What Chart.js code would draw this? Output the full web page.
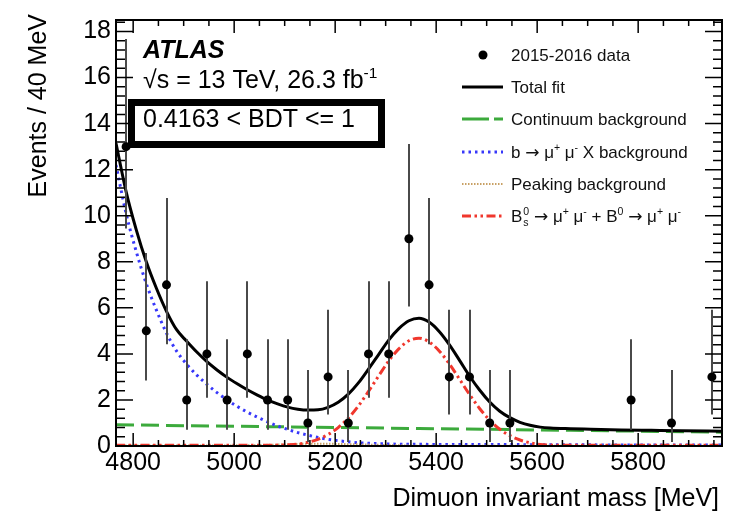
<!DOCTYPE html>
<html><head><meta charset="utf-8">
<script src="https://cdn.jsdelivr.net/npm/chart.js@4.4.1/dist/chart.umd.min.js"></script>
<style>html,body{margin:0;padding:0;background:#fff;}#wrap{width:731px;height:517px;}</style>
</head><body><div id="wrap"><canvas id="c" width="731" height="517"></canvas></div>
<script>
// ---- data ----
const binCenters = [4786,4826,4866,4906,4946,4986,5026,5066,5106,5146,5186,5226,5266,5306,5346,5386,5426,5466,5506,5546,5586,5626,5666,5706,5746,5786,5826,5866,5906,5946];
const counts     = [13,5,7,2,4,2,4,2,2,1,3,1,4,4,9,7,3,3,1,1,0,0,0,0,0,2,0,1,0,3];
const errLow     = [3.56,2.16,2.58,1.29,1.91,1.29,1.91,1.29,1.29,0.83,1.63,0.83,1.91,1.91,2.94,2.58,1.63,1.63,0.83,0.83,0,0,0,0,0,1.29,0,0.83,0,1.63];
const errHigh    = [4.67,3.38,3.77,2.64,3.16,2.64,3.16,2.64,2.64,2.30,2.92,2.30,3.16,3.16,4.11,3.77,2.92,2.92,2.30,2.30,0,0,0,0,0,2.64,0,2.30,0,2.92];

const curveMass = [4766,4786,4806,4826,4846,4866,4886,4906,4926,4946,4966,4986,5006,5026,5046,5066,5086,5106,5126,5146,5166,5186,5206,5226,5246,5266,5286,5306,5326,5346,5366,5386,5406,5426,5446,5466,5486,5506,5526,5546,5566,5586,5606,5626,5666,5706,5766,5826,5886,5966];
const totalFit  = [13.15,11.05,9.4,8.0,6.85,5.85,5.05,4.55,4.08,3.66,3.3,2.98,2.7,2.44,2.21,2.0,1.83,1.69,1.6,1.56,1.57,1.68,1.9,2.25,2.74,3.34,3.97,4.6,5.1,5.44,5.55,5.38,4.97,4.4,3.73,3.04,2.43,1.91,1.51,1.23,1.03,0.9,0.82,0.78,0.75,0.73,0.70,0.68,0.66,0.64];
const bmumuX    = [12.2,10.1,8.45,7.05,5.9,4.9,4.12,3.55,3.08,2.68,2.32,2.0,1.72,1.47,1.25,1.05,0.87,0.72,0.58,0.47,0.37,0.29,0.23,0.18,0.14,0.12,0.10,0.09,0.08,0.08,0.08,0.07,0.07,0.07,0.07,0.06,0.06,0.06,0.06,0.06,0.06,0.05,0.05,0.05,0.05,0.05,0.04,0.04,0.04,0.04];
const signal    = [0.03,0.03,0.03,0.03,0.03,0.03,0.03,0.03,0.03,0.03,0.03,0.03,0.03,0.03,0.03,0.03,0.04,0.05,0.08,0.16,0.29,0.5,0.8,1.21,1.74,2.37,3.04,3.69,4.22,4.57,4.68,4.52,4.13,3.57,2.91,2.24,1.63,1.12,0.73,0.45,0.26,0.14,0.07,0.04,0.03,0.03,0.03,0.03,0.03,0.03];
const peaking   = [0.02,0.02,0.02,0.02,0.02,0.02,0.02,0.02,0.02,0.02,0.02,0.02,0.03,0.03,0.04,0.05,0.06,0.07,0.09,0.1,0.1,0.1,0.09,0.08,0.07,0.06,0.05,0.04,0.03,0.02,0.01,0.01,0.01,0.01,0.01,0.01,0.01,0.01,0.01,0.01,0.01,0.01,0.01,0.01,0.01,0.01,0.01,0.01,0.01,0.01];
const contMass  = [4766,5066,5366,5666,5966];
const continuum = [0.92,0.84,0.76,0.68,0.60];

const xTicks = [4800,5000,5200,5400,5600,5800];
const yTicks = [0,2,4,6,8,10,12,14,16,18];

// ---- styles ----
const FONT = "'Liberation Sans', Arial, Helvetica, sans-serif";
const ARROWFONT = "'DejaVu Sans', sans-serif";
const C_GREEN = 'rgb(60,170,60)', C_BLUE = 'rgb(55,55,250)', C_TAN = 'rgb(200,160,100)', C_RED = 'rgb(240,55,45)';
const DASH_GREEN = [18,7], DASH_BLUE = [2.5,4], DASH_TAN = [1.5,1.5], DASH_RED = [9,3.5,2.5,3.5,2.5,3.5];

const pts = (xs, ys) => xs.map((m,i)=>({x:m, y:ys[i]}));
const dataPts = binCenters.map((m,i)=>({x:m,y:counts[i]})).filter(p=>p.y>0);

function curve(label, xs, ys, color, width, dash, order){
  return {label, data:pts(xs,ys), showLine:true, borderColor:color, borderWidth:width, borderDash:dash,
    pointRadius:0, pointHoverRadius:0, cubicInterpolationMode:'monotone', fill:false, order, borderCapStyle:'butt'};
}

function rich(ctx, x, y, parts, size){
  let cx = x;
  for (const p of parts){
    if (p.stack){
      ctx.font = `${size*0.62}px ${FONT}`;
      ctx.fillText(p.sup, cx+1, y - size*0.42);
      ctx.fillText(p.sub, cx+1, y + size*0.22);
      cx += Math.max(ctx.measureText(p.sup).width, ctx.measureText(p.sub).width)+1;
      continue;
    }
    const s = p.sup ? size*0.62 : size;
    ctx.font = `${s}px ${p.f||FONT}`;
    const dy = p.sup ? -size*0.42 : 0;
    ctx.fillText(p.t, cx, y+dy);
    cx += ctx.measureText(p.t).width;
  }
}
const AR = {t:'\u2192', f:ARROWFONT};

const rootStyle = {
  id:'rootStyle',
  beforeDatasetDraw(chart, args){
    if (args.index !== 0) return;
    const {ctx, scales:{x,y}, chartArea:a} = chart;
    ctx.save();
    ctx.beginPath(); ctx.rect(a.left,a.top,a.right-a.left,a.bottom-a.top); ctx.clip();
    ctx.strokeStyle='#4a4a4a'; ctx.lineWidth=2;
    for (let i=0;i<binCenters.length;i++){
      if (counts[i]<=0) continue;
      const px = Math.round(x.getPixelForValue(binCenters[i]));
      ctx.beginPath();
      ctx.moveTo(px, y.getPixelForValue(counts[i]-errLow[i]));
      ctx.lineTo(px, y.getPixelForValue(counts[i]+errHigh[i]));
      ctx.stroke();
    }
    ctx.restore();
  },
  afterDraw(chart){
    const {ctx, scales:{x,y}, chartArea:a} = chart;
    ctx.save();
    ctx.strokeStyle='#000'; ctx.lineWidth=1.5; ctx.setLineDash([]);
    ctx.beginPath();
    for (let v=0; v<=18.5+1e-9; v+=0.4){
      const py = y.getPixelForValue(v);
      const major = Math.abs(v/2 - Math.round(v/2)) < 1e-6;
      const L = major?17:9;
      ctx.moveTo(a.left,py); ctx.lineTo(a.left+L,py);
      ctx.moveTo(a.right,py); ctx.lineTo(a.right-L,py);
    }
    for (let m=4800; m<=5966; m+=50){
      const px = x.getPixelForValue(m);
      const L = (m%200===0)?13:6;
      ctx.moveTo(px,a.bottom); ctx.lineTo(px,a.bottom-L);
      ctx.moveTo(px,a.top); ctx.lineTo(px,a.top+L);
    }
    ctx.stroke();
    ctx.lineWidth=2;
    ctx.strokeRect(a.left,a.top,a.right-a.left,a.bottom-a.top);

    ctx.fillStyle='#000';
    ctx.font = `25px ${FONT}`;
    ctx.textAlign='right'; ctx.textBaseline='alphabetic';
    ctx.fillText('Dimuon invariant mass [MeV]', 719, 506);
    ctx.save();
    ctx.translate(46, 14); ctx.rotate(-Math.PI/2);
    ctx.fillText('Events / 40 MeV', 0, 0);
    ctx.restore();

    ctx.textAlign='left';
    ctx.font = `italic bold 25px ${FONT}`;
    ctx.fillText('ATLAS', 143, 58);
    rich(ctx, 143, 88, [{t:'\u221As = 13 TeV, 26.3 fb'},{t:'-1',sup:true}], 25);
    ctx.font = `25px ${FONT}`;
    ctx.fillText('0.4163 < BDT <= 1', 143, 127);
    ctx.lineWidth=7;
    ctx.strokeRect(131.5,102.5,250,42);

    const lx0=462, lx1=503, tx=511, fs=17;
    const rows=[55,87,119,152,184,216];
    ctx.beginPath(); ctx.arc(483,rows[0],4.5,0,Math.PI*2); ctx.fill();
    const seg=(yy,color,w,dash)=>{ctx.beginPath();ctx.strokeStyle=color;ctx.lineWidth=w;ctx.setLineDash(dash);ctx.moveTo(lx0,yy);ctx.lineTo(lx1,yy);ctx.stroke();};
    seg(rows[1],'#000',3,[]);
    seg(rows[2],C_GREEN,3,[27,5]);
    seg(rows[3],C_BLUE,3,DASH_BLUE);
    seg(rows[4],C_TAN,2,DASH_TAN);
    seg(rows[5],C_RED,3,DASH_RED);
    ctx.setLineDash([]);
    ctx.fillStyle='#111';
    const off = 6;
    ctx.font = `${fs}px ${FONT}`;
    ctx.fillText('2015-2016 data', tx, rows[0]+off);
    ctx.fillText('Total fit', tx, rows[1]+off);
    ctx.fillText('Continuum background', tx, rows[2]+off);
    rich(ctx, tx, rows[3]+off, [{t:'b '},AR,{t:' \u03BC'},{t:'+',sup:true},{t:' \u03BC'},{t:'-',sup:true},{t:' X background'}], fs);
    ctx.font = `${fs}px ${FONT}`;
    ctx.fillText('Peaking background', tx, rows[4]+off);
    rich(ctx, tx, rows[5]+off, [{t:'B'},{stack:true,sup:'0',sub:'s'},{t:' '},AR,{t:' \u03BC'},{t:'+',sup:true},{t:' \u03BC'},{t:'-',sup:true},{t:' + B'},{t:'0',sup:true},{t:' '},AR,{t:' \u03BC'},{t:'+',sup:true},{t:' \u03BC'},{t:'-',sup:true}], fs);
    ctx.restore();
  }
};

new Chart(document.getElementById('c'), {
  type:'scatter',
  data:{datasets:[
    {label:'2015-2016 data', data:dataPts, showLine:false, pointRadius:4.5, pointHoverRadius:4.5, pointBackgroundColor:'#000', pointBorderWidth:0, order:0},
    curve('Total fit', curveMass, totalFit, '#000', 3, [], 1),
    curve('B_s -> mumu + B0 -> mumu', curveMass, signal, C_RED, 3, DASH_RED, 2),
    curve('Peaking background', curveMass, peaking, C_TAN, 2, DASH_TAN, 3),
    curve('b -> mumu X background', curveMass, bmumuX, C_BLUE, 3, DASH_BLUE, 4),
    curve('Continuum background', contMass, continuum, C_GREEN, 3, DASH_GREEN, 5)
  ]},
  options:{
    responsive:false, animation:false, devicePixelRatio:1,
    layout:{padding:{left:0,top:10,right:9,bottom:0}},
    plugins:{legend:{display:false}, tooltip:{enabled:false}},
    scales:{
      x:{type:'linear', min:4766, max:5966,
        afterBuildTicks:s=>{s.ticks=xTicks.map(v=>({value:v}));},
        afterFit:s=>{s.height=71;},
        grid:{display:false, drawTicks:false}, border:{display:false},
        ticks:{font:{family:FONT,size:25}, color:'#000', padding:2, maxRotation:0, autoSkip:false, callback:v=>String(v)}},
      y:{type:'linear', min:0, max:18.5,
        afterBuildTicks:s=>{s.ticks=yTicks.map(v=>({value:v}));},
        afterFit:s=>{s.width=116;},
        grid:{display:false, drawTicks:false}, border:{display:false},
        ticks:{font:{family:FONT,size:25}, color:'#000', padding:5, autoSkip:false, callback:v=>String(v)}}
    }
  },
  plugins:[rootStyle]
});
</script></body></html>
